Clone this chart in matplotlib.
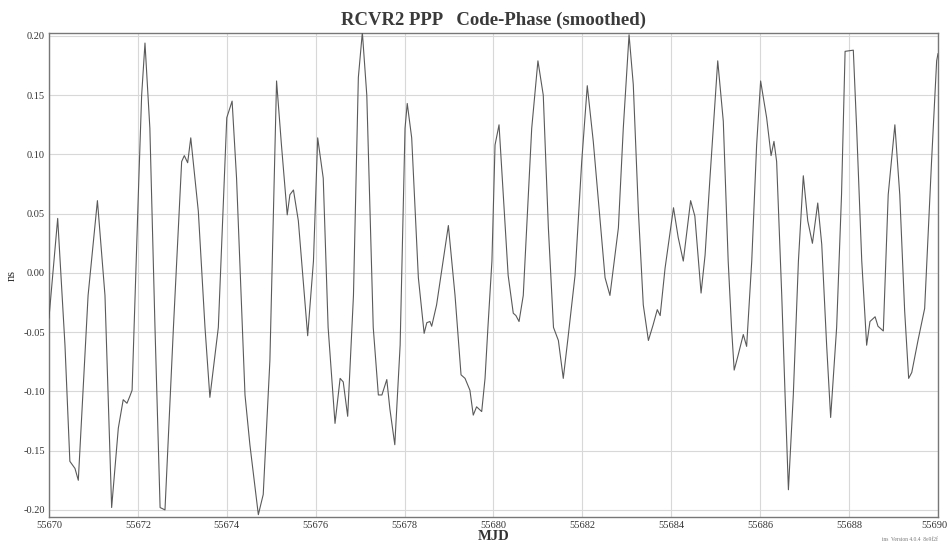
import matplotlib.pyplot as plt
import matplotlib.transforms as mtransforms
import numpy as np

# days after MJD 55670 and offset in ns
day_offset = [
    0.000, 0.196, 0.36, 0.47, 0.585, 0.66, 0.88, 1.09, 1.26, 1.41,
    1.56, 1.67, 1.755, 1.82, 1.87, 2.01, 2.085, 2.16, 2.27, 2.385,
    2.50, 2.61, 2.80, 2.985, 3.045, 3.12, 3.19, 3.36, 3.51, 3.62,
    3.81, 4.00, 4.12, 4.22, 4.41, 4.52, 4.71, 4.82, 4.97, 5.12,
    5.23, 5.31, 5.36, 5.42, 5.50, 5.61, 5.82, 5.95, 6.045, 6.17,
    6.28, 6.435, 6.55, 6.62, 6.72, 6.85, 6.96, 7.05, 7.15, 7.295,
    7.41, 7.49, 7.60, 7.67, 7.78, 7.90, 8.01, 8.06, 8.16, 8.31,
    8.44, 8.50, 8.57, 8.61, 8.72, 8.985, 9.135, 9.27, 9.36, 9.47,
    9.545, 9.62, 9.735, 9.81, 9.875, 9.965, 10.035, 10.125, 10.22, 10.33,
    10.445, 10.505, 10.575, 10.67, 10.86, 11.00, 11.12, 11.235, 11.35, 11.46,
    11.57, 11.67, 11.835, 11.985, 12.11, 12.245, 12.36, 12.51, 12.62, 12.81,
    12.92, 13.05, 13.145, 13.26, 13.37, 13.485, 13.59, 13.685, 13.75, 13.86,
    14.05, 14.155, 14.27, 14.435, 14.53, 14.67, 14.76, 14.87, 15.045, 15.17,
    15.28, 15.355, 15.415, 15.50, 15.62, 15.695, 15.81, 15.92, 16.01, 16.145,
    16.245, 16.31, 16.37, 16.485, 16.56, 16.635, 16.745, 16.86, 16.97, 17.07,
    17.175, 17.295, 17.385, 17.495, 17.585, 17.72, 17.83, 17.91, 18.095, 18.17,
    18.285, 18.395, 18.47, 18.585, 18.65, 18.77, 18.88, 19.03, 19.14, 19.25,
    19.34, 19.41, 19.55, 19.70, 19.855, 19.97, 20.0,
]
code_phase_ns = [
    -0.038, 0.046, -0.061, -0.159, -0.165, -0.175, -0.019, 0.061, -0.019, -0.198,
    -0.131, -0.107, -0.110, -0.104, -0.099, 0.066, 0.150, 0.194, 0.122, -0.046,
    -0.198, -0.200, -0.046, 0.094, 0.099, 0.093, 0.114, 0.052, -0.046, -0.105,
    -0.046, 0.131, 0.145, 0.080, -0.103, -0.145, -0.204, -0.187, -0.074, 0.162,
    0.108, 0.072, 0.049, 0.066, 0.070, 0.044, -0.053, 0.010, 0.114, 0.080,
    -0.046, -0.127, -0.089, -0.092, -0.121, -0.019, 0.165, 0.203, 0.150, -0.046,
    -0.103, -0.103, -0.090, -0.115, -0.145, -0.061, 0.122, 0.143, 0.114, -0.004,
    -0.051, -0.042, -0.041, -0.045, -0.027, 0.040, -0.019, -0.086, -0.089, -0.099,
    -0.120, -0.113, -0.117, -0.089, -0.046, 0.010, 0.108, 0.125, 0.066, -0.002,
    -0.034, -0.036, -0.041, -0.019, 0.122, 0.179, 0.150, 0.038, -0.046, -0.057,
    -0.089, -0.057, -0.002, 0.094, 0.158, 0.111, 0.061, -0.004, -0.019, 0.038,
    0.122, 0.201, 0.159, 0.052, -0.027, -0.057, -0.044, -0.031, -0.036, 0.004,
    0.055, 0.030, 0.010, 0.061, 0.048, -0.017, 0.015, 0.080, 0.179, 0.128,
    0.010, -0.046, -0.082, -0.070, -0.052, -0.062, 0.010, 0.108, 0.162, 0.131,
    0.099, 0.111, 0.094, -0.019, -0.103, -0.183, -0.103, 0.010, 0.082, 0.044,
    0.025, 0.059, 0.024, -0.061, -0.122, -0.046, 0.066, 0.187, 0.188, 0.122,
    0.010, -0.061, -0.041, -0.037, -0.045, -0.049, 0.066, 0.125, 0.066, -0.032,
    -0.089, -0.084, -0.057, -0.030, 0.094, 0.179, 0.185,
]
mjd_start = 55670
x_ticks = list(range(55670, 55691, 2))
y_ticks = [-0.20, -0.15, -0.10, -0.05, 0.00, 0.05, 0.10, 0.15, 0.20]

plt.rcParams["font.family"] = ["Liberation Serif", "DejaVu Serif"]

mjd = mjd_start + np.array(day_offset)

fig = plt.figure(figsize=(9.49, 5.46), dpi=100)
fig.set_facecolor("white")
ax = fig.add_axes([0.0516, 0.0531, 0.9368, 0.8865])

ax.plot(mjd, code_phase_ns, color="#5a5a5a", lw=0.8, zorder=3)

ax.set_xlim(55670, 55690)
ax.set_ylim(-0.206, 0.2025)
ax.set_xticks(x_ticks)
ax.set_yticks(y_ticks)
ax.set_xticklabels([str(t) for t in x_ticks])
ax.set_yticklabels([f"{t:.2f}" for t in y_ticks])
ax.tick_params(axis="both", length=0, labelsize=7.5, colors="#333333", pad=3)
ax.grid(True, color="#d8d8d8", lw=0.8)
for spine in ax.spines.values():
    spine.set_color("#777777")
    spine.set_linewidth(1.0)

# the last x label sits at the right edge of the figure, nudge it in a little
last_label = ax.get_xticklabels()[-1]
last_label.set_transform(last_label.get_transform()
                         + mtransforms.ScaledTranslation(-4 / 100, 0, fig.dpi_scale_trans))

ax.set_xlabel("MJD", fontsize=10.5, fontweight="bold", color="#333333", labelpad=0)
ax.set_ylabel("ns", fontsize=9, color="#333333", labelpad=4)
ax.set_title("RCVR2 PPP   Code-Phase (smoothed)", fontsize=13.5, fontweight="bold",
             color="#3a3a3a", pad=6)

fig.text(0.988, 0.008, "ins  Version 4.0.4  8e9f2f", fontsize=4, color="#777777",
         ha="right", va="bottom")

fig.savefig("out.png", dpi=100, facecolor=fig.get_facecolor())
